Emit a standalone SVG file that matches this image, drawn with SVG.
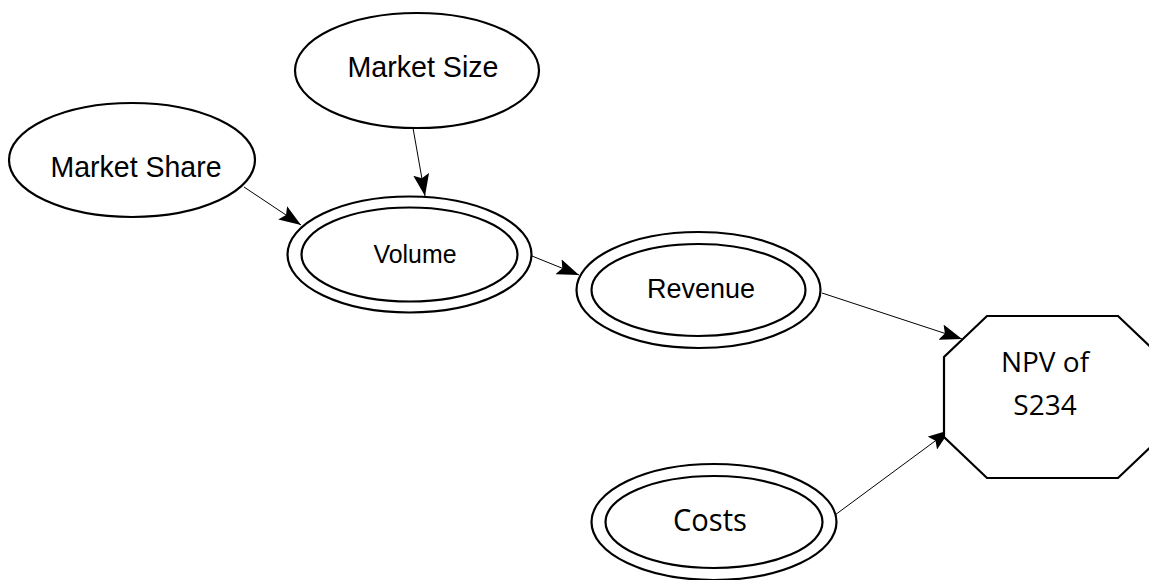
<svg xmlns="http://www.w3.org/2000/svg" width="1149" height="580" viewBox="0 0 1149 580">
  <style>
    .shape { fill: #ffffff; stroke: #000000; stroke-width: 2.2; }
    .edge { fill: none; stroke: #000000; stroke-width: 1; marker-end: url(#arrow); }
    .lbl { font-family: "Liberation Sans", Arial, sans-serif; fill: #000000; text-anchor: middle; }
    .lbl2 { font-family: "Open Sans", "Noto Sans", sans-serif; fill: #000000; text-anchor: middle; }
  </style>
  <defs>
    <marker id="arrow" viewBox="0 0 22 16" refX="22" refY="8" markerWidth="22" markerHeight="16" markerUnits="userSpaceOnUse" orient="auto">
      <path d="M0,0 L22,8 L0,16 L4,8 Z" fill="#000000"/>
    </marker>
  </defs>
  <rect width="1149" height="580" fill="#ffffff"/>

  <g id="connectors">
    <line class="edge" x1="244" y1="187" x2="301" y2="225"/>
    <line class="edge" x1="413" y1="128" x2="425" y2="196"/>
    <line class="edge" x1="532" y1="256" x2="579" y2="275"/>
    <line class="edge" x1="822" y1="293" x2="962" y2="339"/>
    <line class="edge" x1="835" y1="515" x2="950" y2="430"/>
  </g>

  <g id="market-share">
    <ellipse class="shape" cx="132" cy="160" rx="123" ry="57"/>
    <text class="lbl" x="136" y="177" font-size="30" textLength="171" lengthAdjust="spacingAndGlyphs">Market Share</text>
  </g>

  <g id="market-size">
    <ellipse class="shape" cx="417" cy="70.5" rx="122" ry="57.5"/>
    <text class="lbl" x="423" y="77" font-size="30" textLength="151" lengthAdjust="spacingAndGlyphs">Market Size</text>
  </g>

  <g id="volume">
    <ellipse class="shape" cx="409.5" cy="254.5" rx="122" ry="58"/>
    <ellipse class="shape" cx="409.5" cy="254.5" rx="108" ry="47"/>
    <text class="lbl" x="415" y="263" font-size="25" textLength="83" lengthAdjust="spacingAndGlyphs">Volume</text>
  </g>

  <g id="revenue">
    <ellipse class="shape" cx="698.5" cy="290" rx="122" ry="58"/>
    <ellipse class="shape" cx="698.5" cy="290" rx="107" ry="46"/>
    <text class="lbl" x="701" y="298" font-size="28" textLength="108" lengthAdjust="spacingAndGlyphs">Revenue</text>
  </g>

  <g id="costs">
    <ellipse class="shape" cx="714" cy="522" rx="122.5" ry="58"/>
    <ellipse class="shape" cx="714" cy="522" rx="108.5" ry="46"/>
    <text class="lbl2" x="710" y="531" font-size="31" textLength="74" lengthAdjust="spacingAndGlyphs">Costs</text>
  </g>

  <g id="npv">
    <polygon class="shape" points="987,316 1118,316 1161,357 1161,437 1118,478 987,478 944,437 944,357"/>
    <text class="lbl2" x="1045" y="372" font-size="28">NPV of</text>
    <text class="lbl2" x="1045" y="415" font-size="28">S234</text>
  </g>
</svg>
